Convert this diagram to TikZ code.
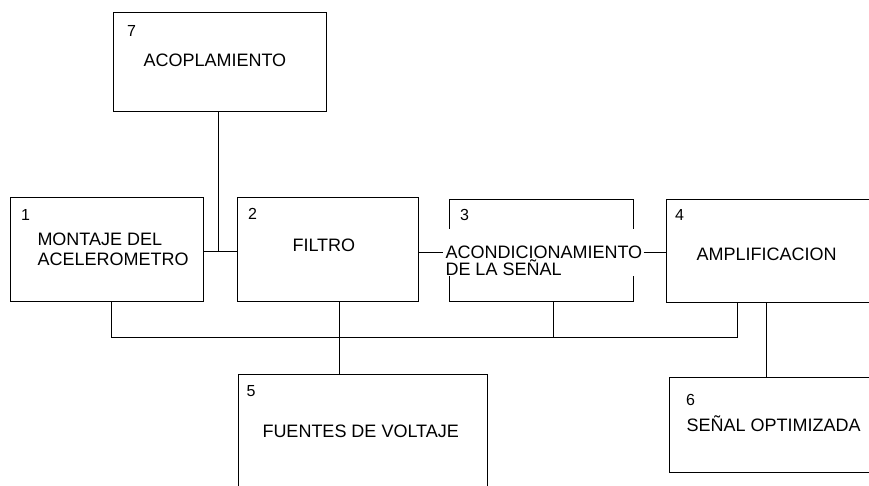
\documentclass[tikz,border=0pt]{standalone}
\usepackage{fontspec}
\setmainfont{Liberation Sans}
\begin{document}
\begin{tikzpicture}[x=1pt,y=-1pt,line width=1pt,
  blk/.style={draw=black,rectangle,inner sep=0pt},
  lbl/.style={anchor=base west,inner sep=0pt,font=\fontsize{18}{18}\selectfont},
  num/.style={anchor=base west,inner sep=0pt,font=\fontsize{16}{16}\selectfont}]
\useasboundingbox (0,0) rectangle (869,485);
\clip (0,0) rectangle (869,485);
\fill[white] (0,0) rectangle (869,485);
% boxes
\node[blk,minimum width=192.6pt,minimum height=104.4pt] (b1) at (107,249.5) {};
\node[blk,minimum width=181.4pt,minimum height=104.4pt] (b2) at (328,249.5) {};
\node[blk,minimum width=184pt,minimum height=102pt] (b3) at (541.3,250) {};
\node[blk,minimum width=234pt,minimum height=102.5pt] (b4) at (783,251.2) {};
\node[blk,minimum width=249.4pt,minimum height=125.7pt] (b5) at (363,437) {};
\node[blk,minimum width=230.7pt,minimum height=95.4pt] (b6) at (784.6,425) {};
\node[blk,minimum width=213.4pt,minimum height=98.7pt] (b7) at (220,61.7) {};
% white label area of box 3
\node[fill=white,inner sep=0pt,minimum width=200pt,minimum height=47pt] (t3) at (543,252.5) {};
% numbers
\node[num] (n1) at (20.5,220) {1};
\node[num] (n2) at (247.5,219.5) {2};
\node[num] (n3) at (459.5,220) {3};
\node[num] (n4) at (674.5,220) {4};
\node[num] (n5) at (246,396.7) {5};
\node[num] (n6) at (685.5,405) {6};
\node[num] (n7) at (126.5,36) {7};
% texts
\node[lbl] (l1a) at (37,245) {MONTAJE DEL};
\node[lbl] (l1b) at (37,265) {ACELEROMETRO};
\node[lbl] (l2) at (292,251.7) {FILTRO};
\node[lbl] (l3a) at (445,258) {ACONDICIONAMIENTO};
\node[lbl] (l3b) at (445,275.3) {DE LA SEÑAL};
\node[lbl] (l4) at (696,260) {AMPLIFICACION};
\node[lbl] (l5) at (262,437.3) {FUENTES DE VOLTAJE};
\node[lbl] (l6) at (686,431.7) {SEÑAL OPTIMIZADA};
\node[lbl] (l7) at (143,66.7) {ACOPLAMIENTO};
% junctions
\coordinate (j7) at (218.3,251);
\coordinate (bl) at (111,337.3);
\coordinate (br) at (737.3,337.3);
% connectors
\draw (b1.east |- j7) -- (b2.west |- j7);
\draw (b7.south -| j7) -- (j7);
\draw (t3.west) -- (t3.west -| b2.east);
\draw (t3.east) -- (t3.east -| b4.west);
\draw (b1.south -| bl) -- (bl) -- (br) -- (b4.south -| br);
\draw (b3.south -| 553.3,0) -- (553.3,337.3);
\draw (b2.south -| 339,0) -- (b5.north -| 339,0);
\draw (b4.south -| 766.7,0) -- (b6.north -| 766.7,0);
\end{tikzpicture}
\end{document}
